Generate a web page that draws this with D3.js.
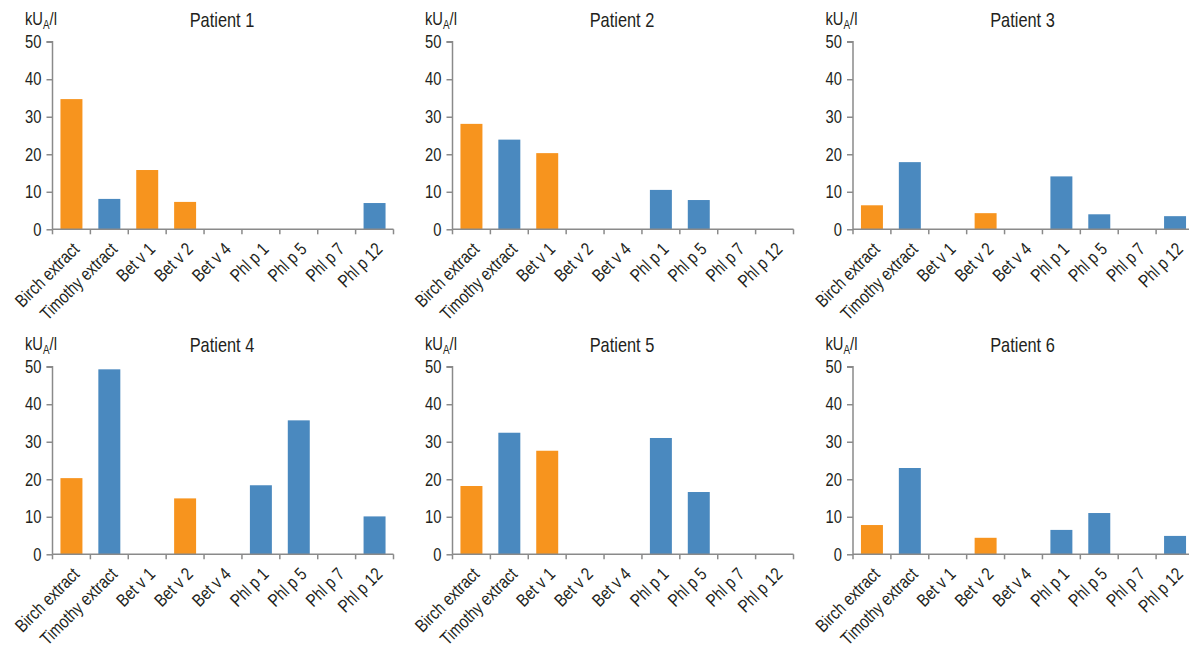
<!DOCTYPE html>
<html>
<head>
<meta charset="utf-8">
<script src="https://cdn.jsdelivr.net/npm/d3@7"></script>
<style>
  html, body { margin: 0; padding: 0; background: #fff; }
  svg { display: block; font-family: "Liberation Sans", Arial, sans-serif; }
</style>
</head>
<body>
<svg id="chart" width="1189" height="647"></svg>
<script>
// ---- Data ----
const categories = ["Birch extract", "Timothy extract", "Bet v 1", "Bet v 2", "Bet v 4", "Phl p 1", "Phl p 5", "Phl p 7", "Phl p 12"];
const source = ["birch", "timothy", "birch", "birch", "birch", "timothy", "timothy", "timothy", "timothy"];
const patientNames = ["Patient 1", "Patient 2", "Patient 3", "Patient 4", "Patient 5", "Patient 6"];
const patient1 = [34.7, 8.1, 15.8, 7.3, 0, 0, 0, 0, 7.0];
const patient2 = [28.1, 23.9, 20.3, 0, 0, 10.5, 7.8, 0, 0];
const patient3 = [6.4, 17.9, 0, 4.3, 0, 14.1, 4.0, 0, 3.5];
const patient4 = [20.3, 49.3, 0, 14.9, 0, 18.4, 35.7, 0, 10.1];
const patient5 = [18.2, 32.4, 27.6, 0, 0, 31.0, 16.6, 0, 0];
const patient6 = [7.8, 23.0, 0, 4.4, 0, 6.5, 11.0, 0, 4.9];
const yTicks = [0, 10, 20, 30, 40, 50];
const patients = [patient1, patient2, patient3, patient4, patient5, patient6];

// ---- Layout ----
const svg = d3.select("#chart");
const colOrigins = [52.5, 452.5, 853];
const rowTops = [41.7, 366.7];
const W = 341, H = 187.6;
const axisColor = "#8a8a8a";
const textColor = "#231f20";
const colorMap = { birch: "#F7941E", timothy: "#4A89BF" };
const SX = 0.82; // horizontal condensing factor (narrow font look)

const x = d3.scaleBand().domain(categories).range([0, W]).paddingInner(0.42).paddingOuter(0.21);
const y = d3.scaleLinear().domain([0, 50]).range([H, 0]);

patients.forEach((vals, i) => {
  const col = i % 3, row = Math.floor(i / 3);
  const g = svg.append("g").attr("transform", `translate(${colOrigins[col]},${rowTops[row]})`);

  // bars
  g.selectAll("rect.bar").data(vals.map((v, k) => ({ v, k })))
    .join("rect")
    .attr("class", "bar")
    .attr("x", d => x(categories[d.k]))
    .attr("width", x.bandwidth())
    .attr("y", d => y(d.v))
    .attr("height", d => H - y(d.v))
    .attr("fill", d => colorMap[source[d.k]]);

  // y axis
  const ya = g.append("g")
    .call(d3.axisLeft(y).tickValues(yTicks).tickSize(6).tickPadding(4).tickFormat(d3.format("d")));
  ya.attr("font-family", null).attr("font-size", null);
  ya.select(".domain").attr("stroke", axisColor).attr("stroke-width", 1.5).attr("d", `M-6,0H0V${H}`);
  ya.selectAll(".tick line").attr("stroke", axisColor).attr("stroke-width", 1.5);
  ya.selectAll(".tick text")
    .attr("fill", textColor).attr("font-size", 18)
    .attr("x", -11 / SX)
    .attr("transform", `scale(${SX},1)`);

  // x axis
  const xa = g.append("g").attr("transform", `translate(0,${H})`);
  xa.append("line").attr("x1", 0).attr("x2", W).attr("y1", 0).attr("y2", 0)
    .attr("stroke", axisColor).attr("stroke-width", 1.5);
  const step = x.step();
  const boundaries = d3.range(categories.length + 1).map(k => k * step);
  xa.selectAll("line.tk").data(boundaries).join("line").attr("class", "tk")
    .attr("x1", d => d).attr("x2", d => d).attr("y1", 0).attr("y2", 5)
    .attr("stroke", axisColor).attr("stroke-width", 1.5);
  xa.selectAll("text.cat").data(categories).join("text").attr("class", "cat")
    .attr("transform", d => `translate(${x(d) + x.bandwidth() / 2 + 9},21) rotate(-45) scale(${SX},1)`)
    .attr("text-anchor", "end")
    .attr("font-size", 18)
    .attr("fill", textColor)
    .text(d => d);

  // title
  g.append("text")
    .attr("transform", `translate(${W / 2 - 1},-15) scale(${SX},1)`)
    .attr("text-anchor", "middle")
    .attr("font-size", 20)
    .attr("fill", textColor)
    .text(patientNames[i]);

  // unit label
  const u = g.append("text")
    .attr("transform", `translate(-27.5,-16.5) scale(${SX},1)`)
    .attr("font-size", 18)
    .attr("fill", textColor);
  u.append("tspan").text("kU");
  u.append("tspan").attr("font-size", 12).attr("dy", 4).text("A");
  u.append("tspan").attr("dy", -4).text("/l");
});
</script>
</body>
</html>
